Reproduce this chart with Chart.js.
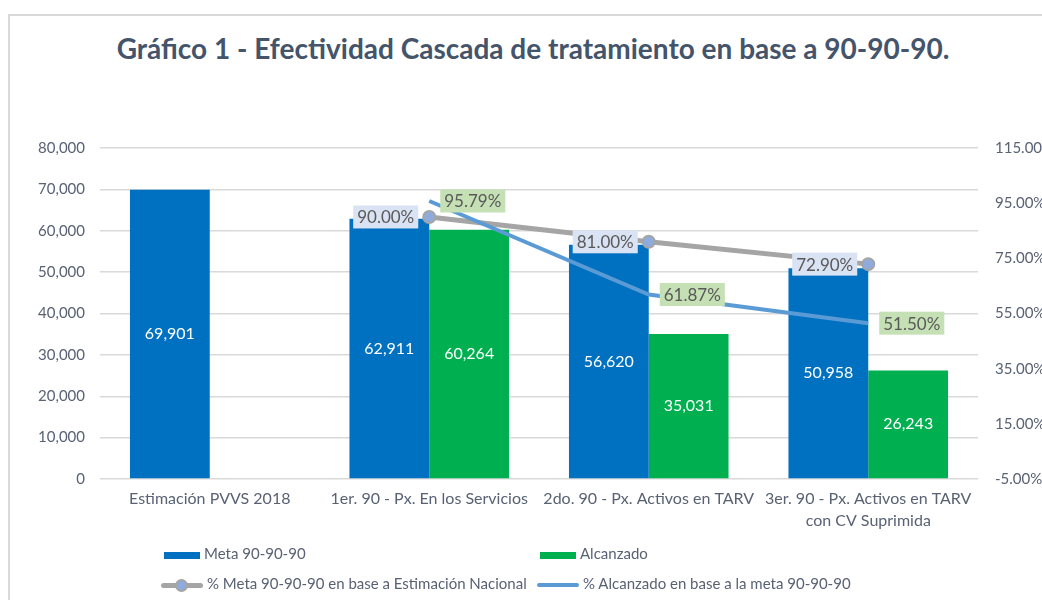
<!DOCTYPE html>
<html>
<head>
<meta charset="utf-8">
<script src="https://cdn.jsdelivr.net/npm/chart.js@4/dist/chart.umd.min.js"></script>
<style>
  html, body { margin: 0; padding: 0; background: #fff; overflow: hidden; }
  #wrap { position: relative; width: 1042px; height: 600px; overflow: hidden; }
  #frame { position: absolute; left: 8px; top: 14px; width: 1100px; height: 700px; border: 2px solid #d9d9d9; box-sizing: border-box; }
  #title { position: absolute; left: 533px; top: 31px; transform: translateX(-50%); white-space: nowrap;
           font-family: Lato, sans-serif; font-weight: bold; font-size: 28px; color: #44546a; }
  canvas { position: absolute; left: 0; top: 0; }
  .leg { position: absolute; font-family: Lato, sans-serif; font-size: 15px; color: #596273; white-space: nowrap; line-height: 20px; }
  .leg span.sw { display: inline-block; vertical-align: middle; margin-right: 4px; position: relative; }
</style>
</head>
<body>
<div id="wrap">
  <div id="frame"></div>
  <div id="title">Gráfico 1 - Efectividad Cascada de tratamiento en base a 90-90-90.</div>
  <canvas id="cascada" width="1042" height="600"></canvas>
  <div class="leg" style="left:164px; top:543px;"><span class="sw" style="width:36px;height:7px;background:#0070c0;"></span>Meta 90-90-90</div>
  <div class="leg" style="left:540px; top:543px;"><span class="sw" style="width:36px;height:7px;background:#00b050;"></span>Alcanzado</div>
  <div class="leg" style="left:161px; top:573px;"><span class="sw" style="width:42px;height:5px;background:#a5a5a5;border-radius:3px;"><span style="position:absolute;left:14px;top:-4px;border-radius:50%;background:#8faadc;border:2px solid #a5a5a5;box-sizing:border-box;width:13px;height:13px;"></span></span>% Meta 90-90-90 en base a Estimación Nacional</div>
  <div class="leg" style="left:537px; top:573px;"><span class="sw" style="width:42px;height:4px;background:#5b9bd5;border-radius:2px;"></span>% Alcanzado en base a la meta 90-90-90</div>
</div>
<script>
const categorias = [
  'Estimación PVVS 2018',
  '1er. 90 - Px. En los Servicios',
  '2do. 90 - Px. Activos en TARV',
  ['3er. 90 - Px. Activos en TARV', 'con CV Suprimida']
];
const meta = [69901, 62911, 56620, 50958];
const alcanzado = [null, 60264, 35031, 26243];
const pctMeta = [null, 90.00, 81.00, 72.90];
const pctAlcanzado = [null, 95.79, 61.87, 51.50];

const tickColor = '#596273';

const etiquetas = {
  id: 'etiquetas',
  afterDatasetsDraw(chart) {
    const ctx = chart.ctx;
    ctx.save();
    ctx.textBaseline = 'middle';
    chart.data.datasets.forEach((ds, i) => {
      const meta_ = chart.getDatasetMeta(i);
      meta_.data.forEach((el, j) => {
        const v = ds.data[j];
        if (v == null) return;
        if (ds.type === 'line') {
          ctx.font = '17px Lato';
          const txt = v.toFixed(2) + '%';
          const w = ctx.measureText(txt).width + 8;
          const h = 23;
          const left = ds.labelSide === 'left' ? el.x - 11 - w : el.x + 11;
          ctx.fillStyle = ds.labelBg;
          ctx.fillRect(left, el.y - h / 2, w, h);
          ctx.fillStyle = '#595959';
          ctx.textAlign = 'left';
          ctx.fillText(txt, left + 4, el.y + 1);
        } else {
          ctx.font = '16px Lato';
          ctx.fillStyle = '#ffffff';
          ctx.textAlign = 'center';
          ctx.fillText(v.toLocaleString('en-US'), el.x, (el.y + el.base) / 2);
        }
      });
    });
    ctx.restore();
  }
};

new Chart(document.getElementById('cascada'), {
  type: 'bar',
  data: {
    labels: categorias,
    datasets: [
      {
        type: 'line', label: '% Meta 90-90-90 en base a Estimación Nacional',
        data: pctMeta, yAxisID: 'y1', order: 1,
        borderColor: '#a5a5a5', borderWidth: 5,
        pointRadius: 6, pointBackgroundColor: '#8faadc', pointBorderColor: '#a5a5a5', pointBorderWidth: 2,
        labelSide: 'left', labelBg: '#dae3f3'
      },
      {
        type: 'line', label: '% Alcanzado en base a la meta 90-90-90',
        data: pctAlcanzado, yAxisID: 'y1', order: 0,
        borderColor: '#5b9bd5', borderWidth: 4, pointRadius: 0,
        labelSide: 'right', labelBg: '#c5e0b4'
      },
      {
        label: 'Meta 90-90-90', data: meta, yAxisID: 'y', order: 2,
        backgroundColor: '#0070c0', categoryPercentage: 0.727, barPercentage: 1
      },
      {
        label: 'Alcanzado', data: alcanzado, yAxisID: 'y', order: 2,
        backgroundColor: '#00b050', categoryPercentage: 0.727, barPercentage: 1
      }
    ]
  },
  options: {
    responsive: false,
    animation: false,
    layout: { padding: { top: 148, bottom: 61, left: 0, right: 0 } },
    plugins: { legend: { display: false }, tooltip: { enabled: false } },
    scales: {
      x: {
        grid: { display: false },
        border: { display: false },
        ticks: { color: tickColor, font: { family: 'Lato', size: 16, lineHeight: 1.35 }, padding: 1, maxRotation: 0, autoSkip: false },
        afterFit(s) { s.height = 60; }
      },
      y: {
        position: 'left', min: 0, max: 80000,
        ticks: { stepSize: 10000, color: tickColor, font: { family: 'Lato', size: 15 }, padding: 15,
                 callback: v => v.toLocaleString('en-US') },
        grid: { color: '#d9d9d9', lineWidth: 1.5, drawTicks: false },
        border: { display: false },
        afterFit(s) { s.width = 100; }
      },
      y1: {
        position: 'right', min: -5, max: 115,
        ticks: { stepSize: 20, color: tickColor, font: { family: 'Lato', size: 15 }, padding: 17,
                 callback: v => v.toFixed(2) + '%' },
        grid: { drawOnChartArea: false, drawTicks: false },
        border: { display: false },
        afterFit(s) { s.width = 64; }
      }
    }
  },
  plugins: [etiquetas]
});
</script>
</body>
</html>
